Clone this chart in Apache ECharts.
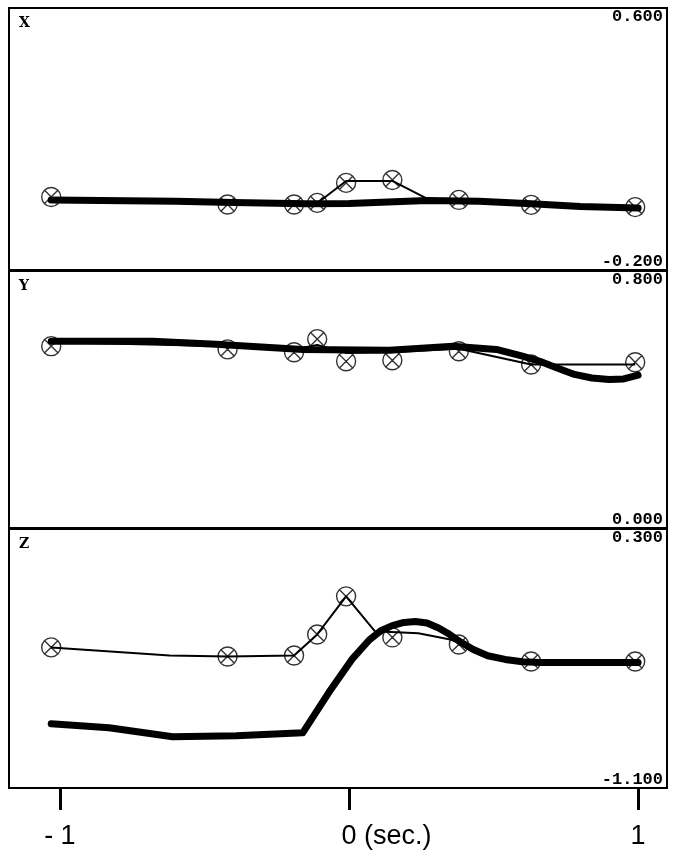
<!DOCTYPE html>
<html><head><meta charset="utf-8">
<script src="https://cdn.jsdelivr.net/npm/echarts@6/dist/echarts.min.js"></script>
<style>html,body{margin:0;padding:0;background:#fff}#c{width:676px;height:858px}</style>
</head><body><div id="c"></div>
<script>
// time (sec.) of marked samples
const tMarks = [-1.03, -0.42, -0.19, -0.11, -0.01, 0.15, 0.38, 0.63, 0.99];
const xMarks = [0.023, 0.0, 0.0, 0.005, 0.066, 0.075, 0.014, -0.001, -0.008];
const yMarks = [0.566, 0.556, 0.547, 0.588, 0.519, 0.522, 0.55, 0.509, 0.516];
const zMarks = [-0.34, -0.389, -0.384, -0.27, -0.064, -0.286, -0.324, -0.416, -0.416];

// thin lines
const xThinT = [-1.03, -0.42, -0.19, -0.11, -0.01, 0.15, 0.27, 0.38, 0.63, 0.99];
const xThinV = [0.016, 0.006, 0.002, 0.004, 0.072, 0.072, 0.018, 0.012, 0.0, -0.008];
const yThinT = [-1.03, -0.42, -0.19, -0.11, -0.01, 0.15, 0.38, 0.63, 0.99];
const yThinV = [0.578, 0.566, 0.556, 0.57, 0.545, 0.548, 0.558, 0.509, 0.509];
const zThinT = [-1.03, -0.62, -0.42, -0.19, -0.11, -0.01, 0.09, 0.24, 0.35, 0.43, 0.54, 0.66, 0.99];
const zThinV = [-0.34, -0.384, -0.389, -0.384, -0.27, -0.064, -0.253, -0.264, -0.297, -0.351, -0.405, -0.422, -0.422];

// thick lines
const xThickT = [-1.03, -0.6, -0.4, -0.15, 0.0, 0.27, 0.45, 0.63, 0.8, 1.0];
const xThickV = [0.014, 0.01, 0.006, 0.002, 0.003, 0.012, 0.01, 0.002, -0.006, -0.011];
const yThickT = [-1.03, -0.68, -0.46, -0.16, 0.14, 0.36, 0.51, 0.60, 0.66, 0.72, 0.78, 0.84, 0.90, 0.95, 1.0];
const yThickV = [0.581, 0.581, 0.572, 0.556, 0.553, 0.566, 0.556, 0.535, 0.519, 0.498, 0.478, 0.467, 0.462, 0.464, 0.476];
const zThickT = [-1.03, -0.83, -0.61, -0.39, -0.16, -0.07, 0.01, 0.07, 0.11, 0.15, 0.19, 0.23, 0.27, 0.31, 0.34, 0.38, 0.43, 0.48, 0.54, 0.60, 0.66, 1.0];
const zThickV = [-0.753, -0.774, -0.823, -0.818, -0.802, -0.584, -0.405, -0.3, -0.25, -0.222, -0.205, -0.2, -0.208, -0.235, -0.262, -0.305, -0.351, -0.385, -0.405, -0.418, -0.422, -0.422];

const panelNames = ['X', 'Y', 'Z'];
const panelMin = [-0.2, 0.0, -1.1];
const panelMax = [0.6, 0.8, 0.3];
const xTicks = [-1, 0, 1];
const xTickText = ['- 1', '0 (sec.)', '1'];

const pair = (t, v) => t.map((x, i) => [x, v[i]]);
const marks = [xMarks, yMarks, zMarks];
const thin = [[xThinT, xThinV], [yThinT, yThinV], [zThinT, zThinV]];
const thick = [[xThickT, xThickV], [yThickT, yThickV], [zThickT, zThickV]];

const grids = [
  {left: 9, right: 9, top: 8, height: 262},
  {left: 9, right: 9, top: 271, height: 257},
  {left: 9, right: 9, top: 529, height: 259}
].map(g => Object.assign(g, {show: true, borderColor: '#000', borderWidth: 2, backgroundColor: '#fff'}));

const markerPath = 'path://M0,10 A10,10 0 1,1 20,10 A10,10 0 1,1 0,10 Z M3,3 L17,17 M17,3 L3,17';

const xAxes = [0, 1, 2].map(i => ({
  type: 'value', gridIndex: i, min: -1.176, max: 1.100,
  show: i === 2, position: 'bottom',
  axisLine: {show: false, onZero: false},
  splitLine: {show: false},
  axisTick: {show: true, length: 22, customValues: xTicks, lineStyle: {color: '#000', width: 3}},
  axisLabel: {
    customValues: xTicks, margin: 35, color: '#000', fontSize: 27,
    fontFamily: 'Liberation Sans, Arial, sans-serif',
    formatter: v => (v === 0 ? '{z|' + xTickText[1] + '}' : xTickText[xTicks.indexOf(v)]),
    rich: {z: {fontSize: 27, color: '#000', fontFamily: 'Liberation Sans, Arial, sans-serif', padding: [0, 0, 0, 75]}}
  }
}));

const yAxes = [0, 1, 2].map(i => ({
  type: 'value', gridIndex: i, position: 'right',
  min: panelMin[i], max: panelMax[i],
  axisLine: {show: false, onZero: false}, axisTick: {show: false}, splitLine: {show: false},
  axisLabel: {
    inside: true, margin: 4, customValues: [panelMin[i], panelMax[i]],
    verticalAlignMinLabel: 'bottom', verticalAlignMaxLabel: 'top',
    formatter: v => v.toFixed(3),
    color: '#000', fontSize: 17, fontWeight: 'bold',
    fontFamily: 'Liberation Mono, DejaVu Sans Mono, monospace'
  }
}));

const series = [];
for (let i = 0; i < 3; i++) {
  series.push({
    type: 'line', xAxisIndex: i, yAxisIndex: i, data: pair(thick[i][0], thick[i][1]),
    showSymbol: false, smooth: false,
    lineStyle: {color: '#000', width: 7, cap: 'round', join: 'round'}, silent: true, z: 3
  });
  series.push({
    type: 'line', xAxisIndex: i, yAxisIndex: i, data: pair(thin[i][0], thin[i][1]),
    showSymbol: false, lineStyle: {color: '#000', width: 2}, silent: true, z: 4
  });
  series.push({
    type: 'scatter', xAxisIndex: i, yAxisIndex: i, data: pair(tMarks, marks[i]),
    symbol: markerPath, symbolSize: 19,
    itemStyle: {color: 'rgba(0,0,0,0)', borderColor: '#000', borderWidth: 1.4}, silent: true, z: 5
  });
}

const titles = panelNames.map((n, i) => ({
  text: n, left: 14, top: grids[i].top + 3,
  textStyle: {fontSize: 14, fontWeight: 'bold', color: '#000', fontFamily: 'DejaVu Serif, serif'}
}));

const chart = echarts.init(document.getElementById('c'), null, {renderer: 'canvas'});
chart.setOption({
  animation: false, backgroundColor: '#fff',
  title: titles, grid: grids, xAxis: xAxes, yAxis: yAxes, series: series
});
</script></body></html>
